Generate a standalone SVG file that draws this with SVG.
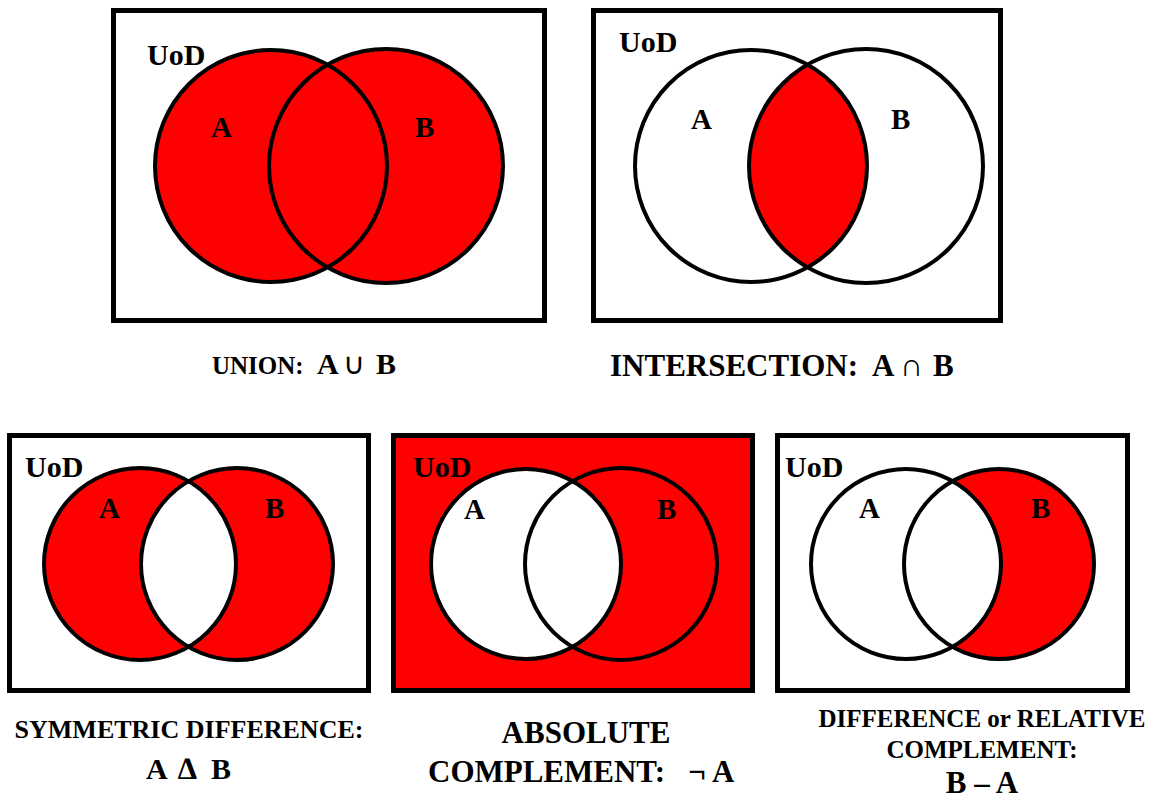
<svg xmlns="http://www.w3.org/2000/svg" width="1164" height="798" viewBox="0 0 1164 798">
<style>
.box{fill:#fff;stroke:#000;stroke-width:5}
.ring{fill:none;stroke:#000;stroke-width:4}
.red{fill:#ff0000}
.wh{fill:#fff}
text{font-family:"Liberation Serif","Times New Roman",serif;font-weight:bold;fill:#000}
.lbl{font-size:29px}
.uod{font-size:30px}
.sym{font-weight:normal}
</style>
<defs>
<clipPath id="cA2"><circle cx="751" cy="166" r="116"/></clipPath>
<clipPath id="cA3"><circle cx="140" cy="564" r="96"/></clipPath>
</defs>
<rect width="1164" height="798" fill="#fff"/>

<g id="union">
<rect class="box" x="113.5" y="10.5" width="431" height="310"/>
<circle class="red" cx="271" cy="166" r="116"/>
<circle class="red" cx="386" cy="166" r="117"/>
<circle class="ring" cx="271" cy="166" r="116"/>
<circle class="ring" cx="386" cy="166" r="117"/>
<text class="uod" x="147" y="65">UoD</text>
<text class="lbl" x="211" y="137">A</text>
<text class="lbl" x="415" y="137">B</text>
<text y="374"><tspan x="212" font-size="25">UNION:</tspan><tspan x="317" font-size="30">A</tspan><tspan class="sym" x="343" font-size="30">∪</tspan><tspan x="376" font-size="30">B</tspan></text>
</g>

<g id="intersection">
<rect class="box" x="593.5" y="10.5" width="407" height="310"/>
<circle class="red" cx="866" cy="166" r="117" clip-path="url(#cA2)"/>
<circle class="ring" cx="751" cy="166" r="116"/>
<circle class="ring" cx="866" cy="166" r="117"/>
<text class="uod" x="619" y="52">UoD</text>
<text class="lbl" x="691" y="129">A</text>
<text class="lbl" x="891" y="129">B</text>
<text y="376" font-size="31"><tspan x="610">INTERSECTION:</tspan><tspan x="872">A</tspan><tspan class="sym" x="900" font-size="32">∩</tspan><tspan x="933">B</tspan></text>
</g>

<g id="symmetric-difference">
<rect class="box" x="9.5" y="435.5" width="359" height="255"/>
<circle class="red" cx="140" cy="564" r="96"/>
<circle class="red" cx="237" cy="564" r="96"/>
<circle class="wh" cx="237" cy="564" r="96" clip-path="url(#cA3)"/>
<circle class="ring" cx="140" cy="564" r="96"/>
<circle class="ring" cx="237" cy="564" r="96"/>
<text class="uod" x="25" y="477">UoD</text>
<text class="lbl" x="99" y="518">A</text>
<text class="lbl" x="265" y="518">B</text>
<text x="189" y="738" font-size="26" text-anchor="middle">SYMMETRIC DIFFERENCE:</text>
<text y="779" font-size="30"><tspan x="146">A</tspan><tspan x="178" font-size="31">∆</tspan><tspan x="211">B</tspan></text>
</g>

<g id="absolute-complement">
<rect class="box" x="393.5" y="435.5" width="359" height="255" style="fill:#ff0000"/>
<circle class="wh" cx="526" cy="564" r="95"/>
<circle class="ring" cx="526" cy="564" r="95"/>
<circle class="ring" cx="621" cy="564" r="96"/>
<text class="uod" x="413" y="477">UoD</text>
<text class="lbl" x="464" y="519">A</text>
<text class="lbl" x="657" y="519">B</text>
<text x="586" y="743" font-size="31" text-anchor="middle">ABSOLUTE</text>
<text x="428" y="782" font-size="31" xml:space="preserve">COMPLEMENT:   ¬ A</text>
</g>

<g id="relative-complement">
<rect class="box" x="777.5" y="435.5" width="350" height="255"/>
<circle class="red" cx="999" cy="564" r="95"/>
<circle class="wh" cx="906" cy="564" r="95"/>
<circle class="ring" cx="906" cy="564" r="95"/>
<circle class="ring" cx="999" cy="564" r="95"/>
<text class="uod" x="785" y="477">UoD</text>
<text class="lbl" x="859" y="518">A</text>
<text class="lbl" x="1031" y="518">B</text>
<text x="982" y="727" font-size="25" text-anchor="middle">DIFFERENCE or RELATIVE</text>
<text x="982" y="758" font-size="25" text-anchor="middle">COMPLEMENT:</text>
<text x="982" y="793" font-size="31" text-anchor="middle">B – A</text>
</g>
</svg>
